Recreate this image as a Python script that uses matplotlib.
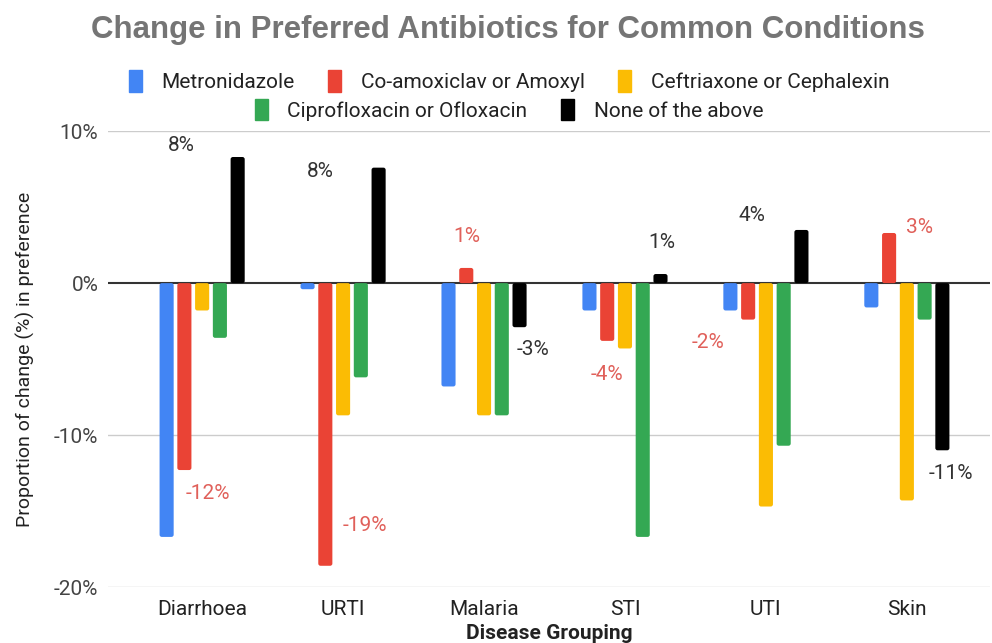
import numpy as np
import matplotlib.pyplot as plt
from matplotlib.patches import Patch, FancyBboxPatch

# data (percent change)
categories = ["Diarrhoea", "URTI", "Malaria", "STI", "UTI", "Skin"]
series_names = ["Metronidazole", "Co-amoxiclav or Amoxyl", "Ceftriaxone or Cephalexin",
                "Ciprofloxacin or Ofloxacin", "None of the above"]
metronidazole = [-16.7, -0.4, -6.8, -1.8, -1.8, -1.6]
co_amoxiclav = [-12.3, -18.6, 1.0, -3.8, -2.4, 3.3]
ceftriaxone = [-1.8, -8.7, -8.7, -4.3, -14.7, -14.3]
ciprofloxacin = [-3.6, -6.2, -8.7, -16.7, -10.7, -2.4]
none_above = [8.3, 7.6, -2.9, 0.6, 3.5, -11.0]
yticks = [-20, -10, 0, 10]

colors = ["#4285F4", "#EA4335", "#FBBC04", "#34A853", "#000000"]

# label nudges in pixels (the source placed these by hand)
red_offsets = [(23, -23), (40, 40), (1, 31), (0, -34), (-40, -23), (30, 5)]
black_offsets = [(-56, 12), (-58, -4), (13, -22), (1, 32), (-49, 14), (8, -23)]

plt.rcParams["font.family"] = ["Roboto", "DejaVu Sans"]

fig = plt.figure(figsize=(9.92, 6.43), dpi=100)
ax = fig.add_axes([0.109, 0.087, 0.889, 0.709])

all_series = [metronidazole, co_amoxiclav, ceftriaxone, ciprofloxacin, none_above]
x = np.arange(len(categories))
step = 0.126
width = 0.1
bars = []
for i, (vals, col) in enumerate(zip(all_series, colors)):
    b = ax.bar(x + (i - 2) * step, vals, width=width, color=col, zorder=3)
    bars.append(b)

# swap the plain rectangles for slightly rounded ones
for b in bars:
    for rect in b:
        rx, ry = rect.get_x(), rect.get_y()
        rw, rh = rect.get_width(), rect.get_height()
        if rh < 0:
            ry, rh = ry + rh, -rh
        ax.add_patch(FancyBboxPatch((rx, ry), rw, rh,
                                    boxstyle="round,pad=0,rounding_size=0.016",
                                    mutation_aspect=9.3, fc=rect.get_facecolor(),
                                    ec="none", zorder=3))
        rect.set_visible(False)

for rect, val, off in zip(bars[1], co_amoxiclav, red_offsets):
    ax.annotate(f"{val:.0f}%", (rect.get_x() + rect.get_width() / 2, val),
                xytext=off, textcoords="offset pixels", ha="center", va="center",
                fontsize=15, color="#E0605A")
for rect, val, off in zip(bars[4], none_above, black_offsets):
    ax.annotate(f"{val:.0f}%", (rect.get_x() + rect.get_width() / 2, val),
                xytext=off, textcoords="offset pixels", ha="center", va="center",
                fontsize=15, color="#333333")

ax.set_xlim(-0.667, 5.59)
ax.set_ylim(-20, 10)
ax.set_yticks(yticks)
ax.set_yticklabels([f"{t}%" for t in yticks])
ax.set_xticks(x)
ax.set_xticklabels(categories)
ax.tick_params(length=0, labelsize=15, colors="#444444", pad=7)
ax.tick_params(axis="x", pad=9, colors="#222222")
for t in yticks:
    ax.axhline(t, color="#333333" if t == 0 else "#cccccc", lw=1.5 if t == 0 else 1, zorder=2)
for s in ax.spines.values():
    s.set_visible(False)

ax.set_ylabel("Proportion of change (%) in preference", fontsize=14, color="#222222", labelpad=14)
ax.set_xlabel("Disease Grouping", fontsize=15, fontweight="bold", color="#222222", labelpad=4)

fig.text(0.512, 0.953, "Change in Preferred Antibiotics for Common Conditions",
         ha="center", va="center", fontsize=22.5, fontweight="bold", color="#757575",
         family=["Liberation Sans", "DejaVu Sans"])

handles = [Patch(color=c) for c in colors]
kw = dict(frameon=False, fontsize=15, handlelength=0.62, handleheight=1.2,
          handletextpad=0.95, columnspacing=1.6, labelcolor="#222222")
fig.legend(handles[:3], series_names[:3], loc="center", ncol=3,
           bbox_to_anchor=(0.513, 0.874), **kw)
fig.legend(handles[3:], series_names[3:], loc="center", ncol=2,
           bbox_to_anchor=(0.513, 0.829), **kw)

fig.savefig("out.png", dpi=100)
